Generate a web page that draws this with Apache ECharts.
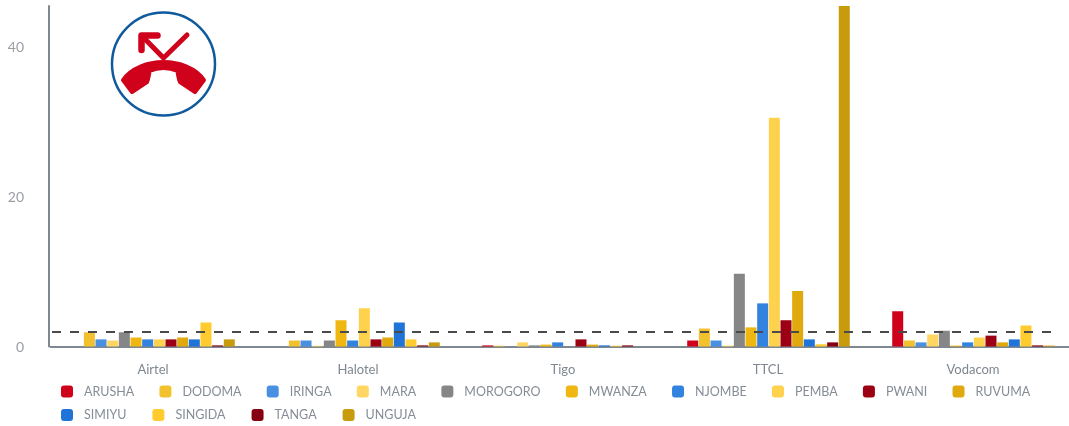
<!DOCTYPE html>
<html><head><meta charset="utf-8">
<style>html,body{margin:0;padding:0;background:#fff}#c{width:1069px;height:426px}</style>
<script src="https://cdn.jsdelivr.net/npm/echarts@6/dist/echarts.min.js"></script>
</head><body><div id="c"></div>
<script>
const categories = ['Airtel','Halotel','Tigo','TTCL','Vodacom'];
const regions = ['ARUSHA','DODOMA','IRINGA','MARA','MOROGORO','MWANZA','NJOMBE','PEMBA','PWANI','RUVUMA','SIMIYU','SINGIDA','TANGA','UNGUJA'];
const colors = ['#d0021b','#f2c12e','#4a90e2','#ffd662','#868686','#eeb711','#3283e0','#ffd24d','#9b0013','#e0aa0f','#2074d8','#ffcb2f','#850011','#c89b0c'];
const ARUSHA = [0,0,0.15,0.8,4.7];
const DODOMA = [1.9,0.8,0.1,2.4,0.8];
const IRINGA = [0.95,0.8,0,0.8,0.55];
const MARA = [0.8,0.1,0.55,0.12,1.6];
const MOROGORO = [1.9,0.8,0.15,9.7,2.1];
const MWANZA = [1.2,3.5,0.25,2.55,0.12];
const NJOMBE = [0.95,0.8,0.55,5.75,0.55];
const PEMBA = [0.95,5.1,0,30.5,1.2];
const PWANI = [0.95,0.95,0.95,3.5,1.45];
const RUVUMA = [1.2,1.2,0.25,7.4,0.55];
const SIMIYU = [0.95,3.2,0.15,0.95,0.95];
const SINGIDA = [3.2,0.95,0.1,0.3,2.8];
const TANGA = [0.15,0.15,0.15,0.55,0.15];
const UNGUJA = [0.95,0.55,0,46,0.12];
const seriesValues = [ARUSHA,DODOMA,IRINGA,MARA,MOROGORO,MWANZA,NJOMBE,PEMBA,PWANI,RUVUMA,SIMIYU,SINGIDA,TANGA,UNGUJA];
const threshold = 2;
const legendRow1 = regions.slice(0,10);
const legendRow2 = regions.slice(10);
const FONT = 'Lato';
const legendBase = {
  orient:'horizontal', itemWidth:12, itemHeight:12, icon:'roundRect', selectedMode:false,
  textStyle:{color:'#868d96',fontFamily:FONT,fontSize:12.5,padding:[0,0,0,6]}, padding:0
};
echarts.graphic.registerShape('handset', echarts.graphic.extendPath('M123 80 C131 68 148 62 163.5 62 C179 62 196 68 204 80 L195 92 L180 82 C178.5 79 178 75 177.5 71 C172 68.5 168 68 163.5 68 C159 68 155 68.5 149.5 71 C149 75 148.5 79 147 82 L132 92 Z',{}));
const chart = echarts.init(document.getElementById('c'),null,{renderer:'canvas'});
chart.setOption({
  animation:false,
  backgroundColor:'#fff',
  color:colors,
  grid:{left:51,width:1025,top:6,height:340.5,containLabel:false,outerBoundsMode:'none'},
  legend:[
    Object.assign({},legendBase,{left:61,top:385,itemGap:25.2,data:legendRow1}),
    Object.assign({},legendBase,{left:61,top:408.5,itemGap:26,data:legendRow2})
  ],
  xAxis:{type:'category',data:categories,
    axisLine:{lineStyle:{color:'#7f8790',width:2,cap:'square'}},axisTick:{show:false},
    axisLabel:{color:'#7f8790',fontFamily:FONT,fontSize:13,margin:17,padding:[0,1,0,0]}},
  yAxis:{type:'value',min:0,max:45.4,interval:20,offset:2,
    axisLine:{show:true,lineStyle:{color:'#7f8790',width:2}},axisTick:{show:false},splitLine:{show:false},
    axisLabel:{margin:25,showMaxLabel:false,formatter:'{a|{value}}',
      rich:{a:{color:'#999ea5',fontFamily:FONT,fontSize:14,lineHeight:16,padding:[2,0,0,0]}}}},
  series:regions.map((name,i)=>({
    name,type:'bar',data:seriesValues[i],barWidth:11,barGap:'6%',barCategoryGap:'20%',
    itemStyle:{color:colors[i]},
    markLine:i===0?{silent:true,symbol:'none',z:20,label:{show:false},
      lineStyle:{color:'#4a4a4a',type:[9,9],width:2},
      data:[[{x:52,yAxis:threshold},{x:1058,yAxis:threshold}]]}:undefined
  })),
  graphic:[
    {type:'circle',shape:{cx:163.5,cy:64,r:51.5},style:{fill:'#fff',stroke:'#0f5a9c',lineWidth:2.5},z:30},
    {type:'handset',z:31,style:{fill:'#d0021b',stroke:'#d0021b',lineWidth:4,lineJoin:'round'}},
    {type:'polyline',z:31,shape:{points:[[143,37],[163.5,58],[187,35]]},style:{fill:'none',stroke:'#d0021b',lineWidth:5,lineJoin:'round',lineCap:'round'}},
    {type:'polyline',z:31,shape:{points:[[157.5,35.5],[141.5,35.5],[141.5,50]]},style:{fill:'none',stroke:'#d0021b',lineWidth:6.5,lineJoin:'round',lineCap:'round'}}
  ]
});
</script></body></html>
